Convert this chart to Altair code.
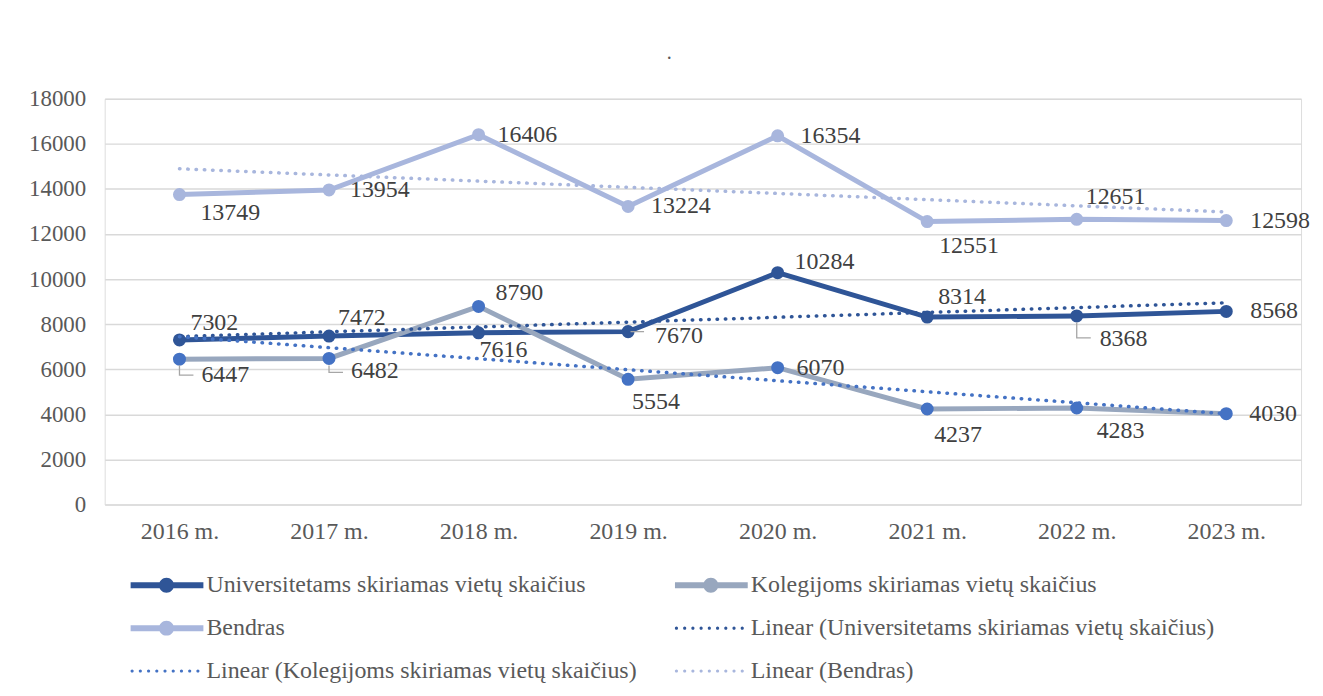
import altair as alt
import pandas as pd

years = [2016, 2017, 2018, 2019, 2020, 2021, 2022, 2023]
year_labels = [f"{y} m." for y in years]
univ = [7302, 7472, 7616, 7670, 10284, 8314, 8368, 8568]
koleg = [6447, 6482, 8790, 5554, 6070, 4237, 4283, 4030]
bendras = [13749, 13954, 16406, 13224, 16354, 12551, 12651, 12598]

S_U = "Universitetams skiriamas vietų skaičius"
S_K = "Kolegijoms skiriamas vietų skaičius"
S_B = "Bendras"
series_names = [S_U, S_K, S_B]
series_values = [univ, koleg, bendras]
trend_names = [f"Linear ({s})" for s in series_names]

# label placement (pixel offsets of data labels relative to their points)
label_dx = {S_U: [11, 9, 1, 27, 17, 11, 23, 24],
            S_K: [22, 22, 17, 4, 19, 7, 20, 23],
            S_B: [21, 21, 19, 23, 23, 12, 9, 24]}
label_dy = {S_U: [-17, -18, 17, 4, -11, -20, 23, 0],
            S_K: [16, 13, -13, 23, 0, 26, 23, 0],
            S_B: [18, 0, 0, 0, 0, 25, -22, 0]}

C_U = "#2F5597"
C_K = "#98A7BE"
C_K_M = "#4472C4"
C_B = "#A8B6DD"
FONT = "Liberation Serif"
FS = 24

rows = []
for s, vals in zip(series_names, series_values):
    for y, lab, v in zip(years, year_labels, vals):
        rows.append({"series": s, "yr": y, "label": lab, "value": v})
df = pd.DataFrame(rows)

x_enc = alt.X("label:N", sort=year_labels,
              scale=alt.Scale(type="point", padding=0.5, domain=year_labels),
              axis=alt.Axis(title=None, grid=False, ticks=False, domain=False,
                            labelFont=FONT, labelFontSize=FS, labelColor="#595959",
                            labelPadding=15, labelAngle=0))
y_enc = alt.Y("value:Q", scale=alt.Scale(domain=[0, 18000], nice=False),
              axis=alt.Axis(title=None, values=list(range(0, 18001, 2000)), format="d",
                            grid=True, gridColor="#D9D9D9", gridWidth=1.5,
                            ticks=False, domain=False, labelFont=FONT, labelFontSize=23,
                            labelColor="#595959", labelPadding=19))

base = alt.Chart(df).encode(x=x_enc, y=y_enc)

layers = []
line_cols = {S_U: C_U, S_K: C_K, S_B: C_B}
mark_cols = {S_U: C_U, S_K: C_K_M, S_B: C_B}
for s in series_names:
    sub = base.transform_filter(alt.datum.series == s)
    layers.append(sub.mark_line(color=line_cols[s], strokeWidth=5))
    layers.append(sub.mark_point(filled=True, opacity=1, color=mark_cols[s], size=170))

trend_cols = {S_U: C_U, S_K: C_K_M, S_B: C_B}
for s in series_names:
    t = (alt.Chart(df)
         .transform_filter(alt.datum.series == s)
         .transform_regression("yr", "value")
         .transform_calculate(label="datum.yr + ' m.'")
         .mark_line(color=trend_cols[s], strokeWidth=3.5, strokeDash=[0.5, 7.8], strokeCap="round")
         .encode(x=x_enc, y=y_enc))
    layers.append(t)

# leader lines
leaders = [
    (S_K, 2016, "M0,0.375V1H0.875", 1024),
    (S_K, 2017, "M0,0.5V1H1", 784),
    (S_U, 2022, "M0,0.3V1H0.64", 1936),
    (S_U, 2019, "M0.15,0H1", 1024),
]
for s, y, path, sz in leaders:
    layers.append(base.transform_filter((alt.datum.series == s) & (alt.datum.yr == y))
                  .mark_point(shape=path, size=sz, filled=False, stroke="#A6A6A6",
                              strokeWidth=1.3, opacity=1))

for s in series_names:
    for i, y in enumerate(years):
        layers.append(base.transform_filter((alt.datum.series == s) & (alt.datum.yr == y))
                      .mark_text(align="left", baseline="middle", dx=label_dx[s][i], dy=label_dy[s][i],
                                 font=FONT, fontSize=FS, color="#404040")
                      .encode(text="value:Q"))

# legend
def circ(cx, r):
    return f"M{cx + r},0A{r},{r} 0 1,1 {cx - r},0A{r},{r} 0 1,1 {cx + r},0Z"

solid_path = "M-1,-0.3H6.3V0.3H-1Z " + circ(2.6, 0.75)
dot_path = " ".join(circ(-0.85 + i * 0.825, 0.16) for i in range(9))

legend_order = [S_U, S_K, S_B, trend_names[0], trend_names[1], trend_names[2]]
legend_colors = [C_U, C_K, C_B, C_U, C_K_M, C_B]
legend_shapes = [solid_path, solid_path, solid_path, dot_path, dot_path, dot_path]

leg = alt.Legend(orient="none", legendX=24, legendY=476, columns=2, columnPadding=36,
                 direction="horizontal",
                 rowPadding=19, symbolSize=400, labelOffset=54, labelFont=FONT,
                 labelFontSize=FS, labelColor="#595959", title=None, symbolStrokeWidth=0,
                 symbolOpacity=1, labelLimit=0)
leg_df = pd.DataFrame({"series": legend_order})
legend_layer = alt.Chart(leg_df).mark_point(filled=True, opacity=0).encode(
    color=alt.Color("series:N", scale=alt.Scale(domain=legend_order, range=legend_colors), legend=leg),
    shape=alt.Shape("series:N", scale=alt.Scale(domain=legend_order, range=legend_shapes), legend=leg),
)
layers.append(legend_layer)

chart = alt.layer(*layers).properties(
    width=1200, height=407,
    title=alt.TitleParams(".", font=FONT, fontSize=20, color="#595959", fontWeight="normal",
                          offset=25, frame="bounds", anchor="middle"),
    padding={"left": 20, "top": 34, "right": 5, "bottom": 5},
).configure_view(stroke=None).configure(background="white")

chart.save("out.html", embed_options={"renderer": "svg", "actions": False})
